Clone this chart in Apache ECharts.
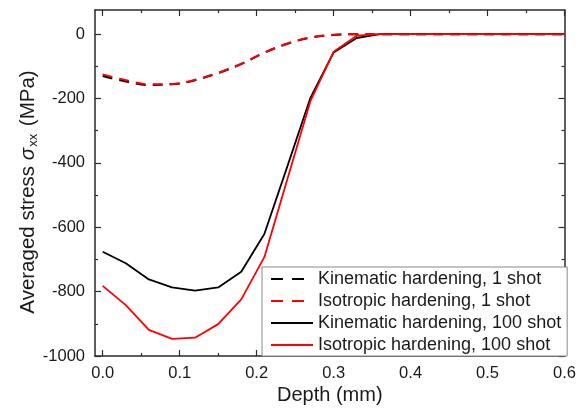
<!DOCTYPE html>
<html>
<head>
<meta charset="utf-8">
<script src="https://cdn.jsdelivr.net/npm/echarts@6/dist/echarts.min.js"></script>
<style>
  html, body { margin: 0; padding: 0; background: #fff; }
  #chart { width: 579px; height: 414px; }
</style>
</head>
<body>
<div id="chart"></div>
<script>
// Depth below the surface (mm)
const depth = [0, 0.03, 0.06, 0.09, 0.12, 0.15, 0.18, 0.21, 0.24, 0.27, 0.30,
               0.33, 0.36, 0.39, 0.42, 0.45, 0.48, 0.51, 0.54, 0.57, 0.60];

// Averaged stress sigma_xx (MPa)
const kinematic1 = [-130, -147, -158, -156, -143, -121, -93, -58, -30, -11, -3,
                    0, 0, 0, 0, 0, 0, 0, 0, 0, 0];
const isotropic1 = [-125, -143, -156, -155, -142, -120, -92, -57, -29, -10, -2,
                    0, 0, 0, 0, 0, 0, 0, 0, 0, 0];
const kinematic100 = [-676, -712, -762, -787, -797, -787, -738, -621, -410, -197, -57,
                      -12, 0, 0, 0, 0, 0, 0, 0, 0, 0];
const isotropic100 = [-782, -842, -919, -947, -943, -901, -824, -693, -450, -207, -55,
                      -5, 0, 0, 0, 0, 0, 0, 0, 0, 0];

const seriesNames = [
  'Kinematic hardening, 1 shot',
  'Isotropic hardening, 1 shot',
  'Kinematic hardening, 100 shot',
  'Isotropic hardening, 100 shot'
];

// Tick positions
const xMajorTicks = [0, 0.1, 0.2, 0.3, 0.4, 0.5, 0.6];
const xMinorTicks = [0.05, 0.15, 0.25, 0.35, 0.45, 0.55];
const yMajorTicks = [-1000, -800, -600, -400, -200, 0];
const yMinorTicks = [-900, -700, -500, -300, -100];

const FONT = '"Liberation Sans", Arial, sans-serif';
const FRAME = '#2a2a2a';
const TEXT = '#1a1a1a';

const X_MIN = -0.01, X_MAX = 0.6;
const Y_MIN = -1000, Y_MAX = 75;

function pairs(ys) { return depth.map((d, i) => [d, ys[i]]); }

// One side of the boxed frame: either the line with long ticks, or short ticks only
function frameAxis(kind, position, ticks, tickLen, showLine) {
  return {
    type: 'value', position,
    min: kind === 'x' ? X_MIN : Y_MIN,
    max: kind === 'x' ? X_MAX : Y_MAX,
    axisLine: { show: showLine, onZero: false, lineStyle: { color: FRAME, width: 1.5 } },
    axisTick: {
      show: true, inside: true, length: tickLen, customValues: ticks,
      lineStyle: { color: FRAME, width: 1.2 }
    },
    axisLabel: { show: false, customValues: ticks },
    splitLine: { show: false }
  };
}

const xMain = frameAxis('x', 'bottom', xMajorTicks, 6, true);
xMain.axisLabel = {
  show: true, customValues: xMajorTicks, margin: 9,
  fontSize: 16.5, fontFamily: FONT, color: TEXT,
  formatter: v => v.toFixed(1)
};
xMain.name = 'Depth (mm)';
xMain.nameLocation = 'middle';
xMain.nameGap = 29;
xMain.nameMoveOverlap = false;
xMain.nameTextStyle = { fontSize: 20, fontFamily: FONT, color: TEXT };

const yMain = frameAxis('y', 'left', yMajorTicks, 6, true);
yMain.axisLabel = {
  show: true, customValues: yMajorTicks, margin: 10,
  fontSize: 16.5, fontFamily: FONT, color: TEXT,
  formatter: v => String(v)
};
yMain.name = '{t|Averaged stress }{i|σ}{s|xx}{t| (MPa)}';
yMain.nameLocation = 'middle';
yMain.nameRotate = 90;
yMain.nameGap = 55;
yMain.nameMoveOverlap = false;
yMain.nameTextStyle = {
  padding: [0, 18, 0, 0],
  rich: {
    t: { fontSize: 20.5, fontFamily: FONT, color: TEXT, lineHeight: 24 },
    i: { fontSize: 20.5, fontFamily: FONT, fontStyle: 'italic', color: TEXT, lineHeight: 24 },
    s: { fontSize: 13, fontFamily: FONT, color: TEXT, lineHeight: 24, verticalAlign: 'bottom', padding: [0, 2, 0, 1] }
  }
};

function lineSeries(name, ys, color, dashed) {
  return {
    name, type: 'line', xAxisIndex: 0, yAxisIndex: 0,
    data: pairs(ys),
    symbol: 'none', showSymbol: false,
    smooth: dashed ? 0.35 : false,
    lineStyle: { color, width: dashed ? 2 : 1.8, type: dashed ? [10, 7] : 'solid' },
    itemStyle: { color },
    emphasis: { disabled: true },
    animation: false
  };
}

const legendDash = { type: [12, 9], width: 2 };

const chart = echarts.init(document.getElementById('chart'), null, { renderer: 'canvas' });
chart.setOption({
  backgroundColor: '#fff',
  animation: false,
  grid: { left: 95, right: 13, top: 10, bottom: 58, containLabel: false },
  xAxis: [
    xMain,
    frameAxis('x', 'bottom', xMinorTicks, 3, false),
    frameAxis('x', 'top', xMajorTicks, 6, true),
    frameAxis('x', 'top', xMinorTicks, 3, false)
  ],
  yAxis: [
    yMain,
    frameAxis('y', 'left', yMinorTicks, 3, false),
    frameAxis('y', 'right', yMajorTicks, 6, true),
    frameAxis('y', 'right', yMinorTicks, 3, false)
  ],
  legend: {
    orient: 'vertical', left: 262, top: 267,
    padding: [3, 6, 2, 8], itemGap: 4, itemWidth: 42, itemHeight: 14,
    backgroundColor: '#fff', borderColor: '#888', borderWidth: 1,
    selectedMode: false,
    itemStyle: { opacity: 0 },
    textStyle: { fontSize: 18, fontFamily: FONT, color: TEXT, lineHeight: 18 },
    data: [
      { name: seriesNames[0], lineStyle: legendDash },
      { name: seriesNames[1], lineStyle: legendDash },
      { name: seriesNames[2] },
      { name: seriesNames[3] }
    ]
  },
  series: [
    lineSeries(seriesNames[0], kinematic1, '#000000', true),
    lineSeries(seriesNames[1], isotropic1, '#ff0000', true),
    lineSeries(seriesNames[2], kinematic100, '#000000', false),
    lineSeries(seriesNames[3], isotropic100, '#ff0000', false)
  ]
});
</script>
</body>
</html>
